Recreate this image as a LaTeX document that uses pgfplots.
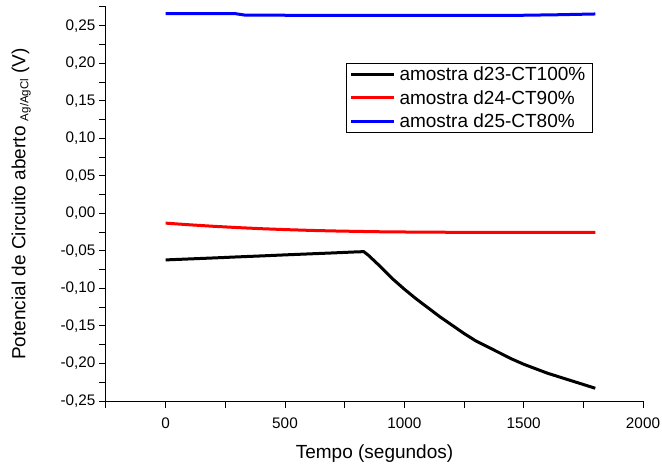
\documentclass[border=0pt]{standalone}
\usepackage{pgfplots}
\pgfplotsset{compat=1.18}
\usepackage{fontspec}
\setmainfont{Liberation Sans}
\begin{document}
\begin{tikzpicture}
\begin{axis}[
  scale only axis,
  width=537pt, height=394pt,
  xmin=-250, xmax=2000,
  ymin=-0.25, ymax=0.275,
  axis lines*=left,
  axis line style={line width=1pt},
  tick style={line width=1pt, black},
  tick align=outside,
  major tick length=7pt, minor tick length=7pt,
  xtick={0,500,1000,1500,2000},
  minor xtick={-250,250,750,1250,1750},
  ytick={-0.25,-0.2,-0.15,-0.1,-0.05,0,0.05,0.1,0.15,0.2,0.25},
  minor ytick={-0.225,-0.175,-0.125,-0.075,-0.025,0.025,0.075,0.125,0.175,0.225,0.275},
  scaled y ticks=false,
  /pgf/number format/assume math mode=true,
  yticklabel style={/pgf/number format/.cd, fixed, fixed zerofill, precision=2, use comma},
  xticklabel style={yshift=-6pt, /pgf/number format/.cd, fixed, set thousands separator={}},
  ticklabel style={font=\fontsize{15.3}{18}\selectfont},
  xlabel={Tempo (segundos)},
  ylabel={Potencial de Circuito aberto \raisebox{-0.3ex}{\fontsize{11.5}{13}\selectfont Ag/AgCl} (V)},
  label style={font=\fontsize{19}{23}\selectfont},
  xlabel style={yshift=-9pt},
  ylabel style={yshift=23pt},
  legend cell align=left,
  legend style={at={(axis cs:756,0.2008)}, anchor=north west, draw=black, line width=0.8pt,
    font=\fontsize{19}{23}\selectfont, inner xsep=3pt, inner ysep=2pt, row sep=4pt,
    nodes={inner xsep=4pt}},
  legend image code/.code={\draw[#1, line width=3pt] (0pt,0pt) -- (43pt,0pt);},
]
\addplot[black, line width=3pt] coordinates {
(0,-0.062) (100,-0.0607) (200,-0.0594) (300,-0.058) (400,-0.0567) (500,-0.0553)
(600,-0.054) (700,-0.0527) (800,-0.0513) (830,-0.051) (850,-0.056) (900,-0.071)
(950,-0.087) (1000,-0.101) (1050,-0.114) (1100,-0.126) (1150,-0.138) (1200,-0.149)
(1250,-0.160) (1300,-0.170) (1350,-0.178) (1400,-0.186) (1450,-0.194) (1500,-0.201)
(1550,-0.207) (1600,-0.213) (1650,-0.218) (1700,-0.223) (1750,-0.228) (1800,-0.233)
};
\addlegendentry{amostra d23-CT100\%}
\addplot[red, line width=3pt] coordinates {
(0,-0.013) (100,-0.0152) (200,-0.0172) (300,-0.0189) (400,-0.0204) (500,-0.0216)
(600,-0.0226) (700,-0.0234) (800,-0.0240) (900,-0.0245) (1000,-0.0248) (1200,-0.0252)
(1400,-0.0254) (1600,-0.0254) (1800,-0.0252)
};
\addlegendentry{amostra d24-CT90\%}
\addplot[blue, line width=3pt] coordinates {
(0,0.2660) (100,0.2660) (200,0.2661) (290,0.2662) (330,0.2643) (500,0.2640)
(700,0.2638) (900,0.2638) (1100,0.2638) (1300,0.2638) (1500,0.2640) (1650,0.2647) (1800,0.2657)
};
\addlegendentry{amostra d25-CT80\%}
\coordinate (O) at (rel axis cs:0,0);
\coordinate (T) at (rel axis cs:1,1);
\end{axis}
\pgfresetboundingbox
\path[use as bounding box] ([shift={(-106pt,-64pt)}]O) rectangle ([shift={(19pt,7pt)}]T);
\end{tikzpicture}
\end{document}
